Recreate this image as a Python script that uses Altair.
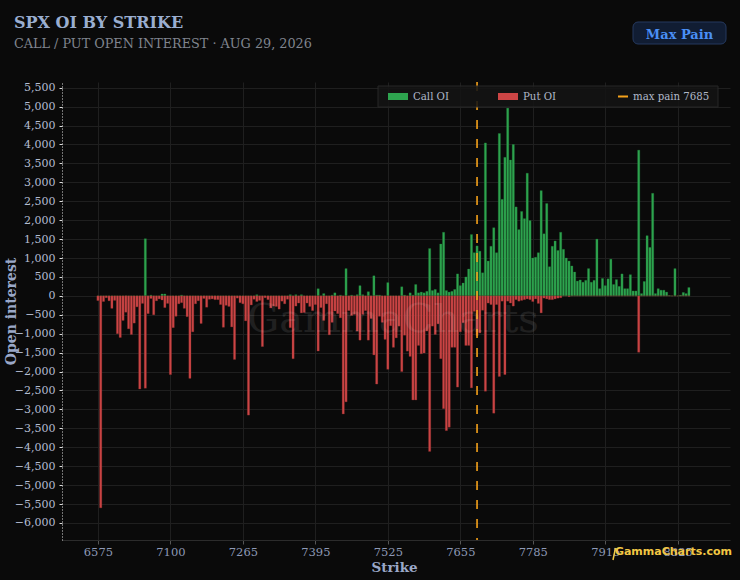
import altair as alt
import pandas as pd

# ---------------- data ----------------
strikes = (
    [6575, 6600, 6625, 6650, 6675, 6700, 6725, 6750, 6775, 6800, 6825, 6850, 6875, 6900,
     6925, 6950, 6975, 7000, 7010, 7020, 7025, 7030, 7040, 7050, 7060, 7075, 7100]
    + [7105, 7110, 7120, 7125, 7130, 7140, 7150, 7160, 7170, 7175, 7180, 7190, 7200,
       7205, 7210, 7215, 7220, 7225, 7230, 7235, 7240, 7245, 7250, 7255, 7260, 7265]
    + list(range(7270, 7920, 5))
    + [7920, 7925, 7930, 7935, 7940, 7945, 7950, 7960, 7970, 7980, 7990, 8000, 8010,
       8025, 8050, 8075, 8100, 8125, 8150, 8175, 8200, 8225, 8250, 8275, 8300, 8325]
    + [8350, 8375, 8400, 8450]
)

call_oi = [
    0, 0, 0, 0, 0, 0, 0, 0, 0, 0,
    0, 0, 0, 0, 0, 0, 0, 1510, 0, 20,
    0, 0, 0, 50, 50, 0, 0, 0, 0, 0,
    20, 0, 0, 0, 0, 0, 0, 0, 0, 0,
    0, 0, 0, 0, 0, 0, 0, 0, 0, 0,
    0, 0, 0, 0, 0, 0, 0, 30, 0, 0,
    0, 0, 0, 0, 0, 0, 0, 0, 0, 30,
    0, 30, 0, 30, 0, 0, 0, 0, 0, 190,
    0, 60, 0, 0, 20, 80, 0, 20, 0, 720,
    0, 20, 0, 30, 270, 30, 0, 110, 0, 530,
    20, 20, 0, 0, 350, 0, 0, 0, 0, 240,
    20, 0, 80, 20, 300, 80, 100, 80, 120, 1250,
    140, 170, 80, 1370, 1680, 140, 100, 120, 170, 580,
    270, 340, 500, 710, 1620, 1140, 1320, 1180, 610, 4040,
    920, 1310, 1800, 1140, 4290, 2550, 3660, 4960, 3590, 4000,
    2350, 1750, 2230, 2040, 3240, 1990, 1000, 1020, 1140, 2780,
    1640, 2440, 770, 1310, 1450, 1200, 1680, 1230, 1000, 920,
    790, 630, 390, 420, 360, 410, 720, 360, 410, 1500,
    190, 460, 270, 450, 970, 300, 430, 250, 580, 190,
    190, 560, 130, 130, 3850, 60, 380, 1590, 1280, 2710,
    60, 190, 150, 150, 100, 10, 0, 720, 0, 20,
    90, 60, 220,
]

put_oi = [
    125, 5600, 150, 50, 130, 330, 120, 1000, 1100, 650,
    430, 870, 1020, 720, 290, 2460, 200, 2440, 470, 70,
    500, 130, 80, 110, 310, 200, 2080, 840, 540, 210,
    180, 330, 550, 2180, 950, 210, 130, 730, 70, 300,
    90, 80, 100, 100, 230, 830, 250, 280, 820, 1680,
    60, 180, 210, 660, 3150, 240, 90, 150, 120, 1340,
    50, 100, 320, 270, 280, 350, 140, 210, 90, 840,
    1660, 270, 190, 450, 440, 190, 280, 390, 230, 1460,
    310, 650, 210, 1030, 700, 400, 470, 580, 3120, 2800,
    390, 520, 490, 930, 1170, 490, 390, 1170, 600, 1560,
    2330, 540, 700, 1150, 1940, 790, 1360, 1110, 800, 2000,
    1040, 1460, 1600, 2750, 2750, 1310, 1530, 1510, 930, 4110,
    800, 1020, 740, 1660, 2980, 3560, 3470, 1360, 1360, 2410,
    950, 710, 1310, 1310, 2430, 410, 1050, 980, 380, 2520,
    190, 230, 3100, 230, 2130, 140, 2080, 140, 190, 270,
    100, 140, 120, 100, 80, 100, 150, 80, 200, 450,
    60, 80, 100, 100, 80, 60, 50, 0, 0, 20,
    0, 0, 0, 0, 0, 0, 0, 0, 0, 0,
    0, 0, 0, 0, 0, 0, 0, 0, 0, 0,
    0, 0, 0, 0, 1490, 0, 0, 0, 0, 0,
    0, 0, 0, 0, 0, 0, 0, 0, 0, 0,
    0, 0, 0,
]

max_pain = 7685
x_tick_strikes = [6575, 7100, 7265, 7395, 7525, 7655, 7785, 7915, 8325]
y_ticks = list(range(-6000, 5501, 500))

assert len(strikes) == len(call_oi) == len(put_oi)

df = pd.DataFrame({
    "pos": list(range(len(strikes))),
    "strike": strikes,
    "call": call_oi,
    "put": put_oi,
})

tick_pos = [strikes.index(s) for s in x_tick_strikes]
label_expr = "{" + ",".join(f"'{p}':'{s}'" for p, s in zip(tick_pos, x_tick_strikes)) + "}[datum.value]"

# ---------------- style ----------------
BG = "#0a0a0a"
GRID = "#1f1f1f"
SERIF = "DejaVu Serif"
GREEN = "#2ea44f"
RED = "#cc4545"
ORANGE = "#f5a21b"
GOLD = "#f2c744"

W, H = 668, 458

x_scale = alt.Scale(domain=[-11.1, 224.95], nice=False, zero=False)
x_enc = alt.X(
    "pos:Q",
    scale=x_scale,
    axis=alt.Axis(
        values=tick_pos, labelExpr=label_expr, labelAngle=0, title="Strike",
        labelColor="#8d99b6", labelFont=SERIF, labelFontSize=11.5, labelPadding=2,
        tickColor="#555", tickSize=4, domainColor="#2c2c2c",
        grid=True, gridColor=GRID,
        titleColor="#9aa8c8", titleFont=SERIF, titleFontSize=13.5, titleFontWeight="bold",
        titleX=332, titleY=27, titleAlign="center", titleBaseline="middle",
    ),
)

y_scale = alt.Scale(domain=[-6450, 5650], nice=False)
y_axis = alt.Axis(
    values=y_ticks, format=",d", title="Open interest",
    labelColor="#b4bdd2", labelFont=SERIF, labelFontSize=11, labelPadding=4,
    tickColor="#dddddd", tickSize=3,
    domainColor="#dddddd", domainDash=[1, 2],
    grid=True, gridColor=GRID,
    titleColor="#9aa8c8", titleFont=SERIF, titleFontSize=14, titleFontWeight="bold",
    titleX=-51, titleY=229, titleAlign="center", titleBaseline="middle",
)

base = alt.Chart(df)

calls = base.mark_bar(color=GREEN, size=2.2, stroke="#1f7a38", strokeWidth=0.3).encode(
    x=x_enc,
    y=alt.Y("call:Q", scale=y_scale, axis=y_axis),
)

puts = base.transform_calculate(neg="-datum.put").mark_bar(
    color=RED, size=2.2, stroke="#8f2f2f", strokeWidth=0.3
).encode(
    x=x_enc,
    y=alt.Y("neg:Q", scale=y_scale, axis=y_axis),
)

rule = alt.Chart(pd.DataFrame({"pos": [strikes.index(max_pain)]})).mark_rule(
    color=ORANGE, strokeDash=[9, 10], strokeWidth=1.6
).encode(x=x_enc)

one = pd.DataFrame({"k": [0]})


def text(txt, x, y, **kw):
    return alt.Chart(one).mark_text(text=txt, **kw).encode(x=alt.value(x), y=alt.value(y))


def box(x1, x2, y1, y2, **kw):
    return alt.Chart(one).mark_rect(**kw).encode(
        x=alt.value(x1), x2=alt.value(x2), y=alt.value(y1), y2=alt.value(y2)
    )


watermark = text("GammaCharts", 331, 238, font=SERIF, fontSize=40, color="#ffffff",
                 opacity=0.09, align="center")

title = text("SPX OI BY STRIKE", -48, -54, font=SERIF, fontSize=16, fontWeight="bold",
             color="#9aaed0", align="left", baseline="alphabetic")
subtitle = text("CALL / PUT OPEN INTEREST · AUG 29, 2026", -48, -34, font=SERIF, fontSize=12.8,
                color="#80858f", align="left", baseline="alphabetic")

btn = box(571, 664, -60, -38, fill="#111d33", stroke="#25395e", strokeWidth=1, cornerRadius=5)
btn_text = text("Max Pain", 617.5, -43, font=SERIF, fontSize=13, fontWeight="bold",
                color="#4a8ff5", align="center", baseline="alphabetic")

leg_box = box(316, 656, 4, 25, fill="#141414", opacity=0.88, stroke="#2a2a2a", strokeWidth=1)
leg_call = box(326, 346, 11, 18, fill=GREEN)
leg_put = box(436, 456, 11, 18, fill=RED)
leg_mp = alt.Chart(one).mark_rule(color=ORANGE, strokeWidth=2).encode(
    x=alt.value(556), x2=alt.value(566), y=alt.value(14.5)
)
LT = dict(font=SERIF, fontSize=10.2, color="#b0b8c8", align="left", baseline="alphabetic")
leg_t1 = text("Call OI", 351, 17.5, **LT)
leg_t2 = text("Put OI", 461, 17.5, **LT)
leg_t3 = text("max pain 7685", 571, 17.5, **LT)

logo_mark = alt.Chart(one).mark_rule(color=GOLD, strokeWidth=1.5).encode(
    x=alt.value(551), x2=alt.value(553.5), y=alt.value(478), y2=alt.value(466)
)
logo = text("GammaCharts.com", 670, 473, font="DejaVu Sans", fontSize=11, fontWeight="bold",
            color=GOLD, align="right", baseline="alphabetic")

chart = alt.layer(
    calls, puts, rule, watermark, title, subtitle, btn, btn_text,
    leg_box, leg_call, leg_put, leg_mp, leg_t1, leg_t2, leg_t3, logo_mark, logo,
).properties(
    width=W, height=H,
    autosize=alt.AutoSizeParams(type="none"),
    padding={"left": 62, "top": 82, "right": 10, "bottom": 34},
    background=BG,
).configure_view(stroke=None)

chart.save(
    "out.html",
    embed_options={
        "renderer": "svg",
        "actions": False,
        "defaultStyle": "body { background: #0a0a0a; margin: 0; overflow: hidden; }",
    },
)
